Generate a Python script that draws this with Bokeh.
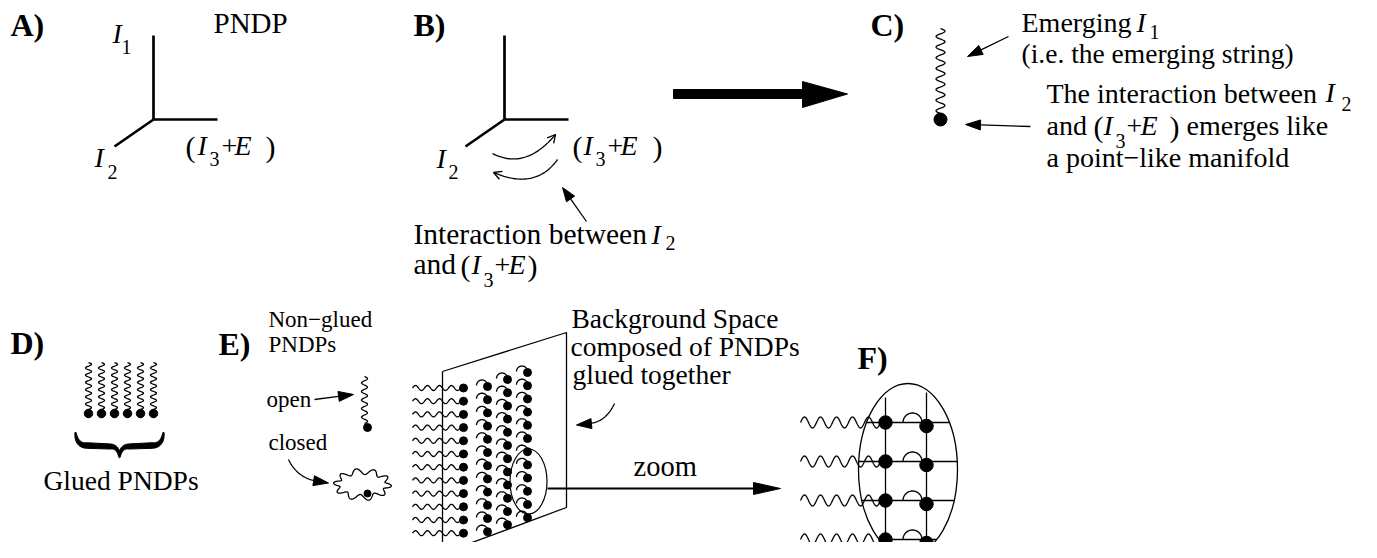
import numpy as np
from bokeh.plotting import figure
from bokeh.models import Range1d
from bokeh.core.properties import value
from bokeh.embed import file_html
from bokeh.resources import INLINE

FONT = "Liberation Serif"
BASE_SHIFT = 0.34   # empirical baseline correction (fraction of font size)

# ---------------- text content ----------------
panel_labels = ["A)", "B)", "C)", "D)", "E)", "F)"]
panel_label_x = [10, 413, 870, 10, 218, 857]
panel_label_y = [35, 35, 35, 353, 354, 368]

roman_texts = ["PNDP", "Interaction between", "and", "Emerging",
               "(i.e. the emerging string)", "The interaction between", "and",
               "emerges like", "a point\u2212like manifold", "Glued PNDPs",
               "Background Space", "composed of PNDPs", "glued together", "zoom"]
roman_x = [213, 413, 413, 1021, 1021, 1046, 1046, 1186, 1046, 43, 571, 570, 572, 633]
roman_y = [32, 244, 274, 32, 62, 103, 135, 135, 167, 489, 327, 355, 383, 476]
roman_size = [29, 29.5, 29.5, 28, 27.5, 28, 28, 28, 28, 27.5, 27.5, 27.5, 27.5, 28.5]

small_texts = ["Non\u2212glued", "PNDPs", "open", "closed"]
small_x = [268, 268, 266, 268]
small_y = [327, 352, 407, 450]

# italic I with a subscript index
sym_sub = ["1", "2", "2", "2", "1", "2"]
sym_x = [112, 94, 436, 651, 1136, 1325]
sym_y = [43, 167, 168, 244, 32, 102]
sym_sub_dx = [9, 13, 12, 14, 13, 16]
sym_sub_dy = [10, 11, 10, 5, 6, 8]

# "(I3+E )" groups: ( , I , 3 , + , E , )
grp_x = [185, 572, 460, 1093]
grp_y = [155, 155, 274, 135]
grp_offsets = [[0, 12, 24, 36, 49, 80],
               [0, 11, 23, 35, 48, 80],
               [0, 11, 23, 34, 48, 67],
               [0, 10, 22, 33, 47, 76]]
grp_sub_dy = [10, 10, 12, 12]

# ---------------- geometry ----------------
axes_vx = [153, 504]
axes_vy = [119, 119]
leg_top_y = 35
leg_right = 64
leg_diag = (-39, 27)

c_string_x, c_string_y0, c_string_y1 = 940, 28, 113
c_dot = (940, 119)

d_x = [88, 101, 114, 127, 140, 153]
d_y0, d_y1, d_dot_y = 362, 409, 413

e_plane_x = [442, 566, 566, 442]
e_plane_y = [371, 332, 507, 553]
e_rows = 12
e_row_step = 13.2
e_wave_x0, e_wave_x1, e_wave_y0 = 412, 460, 387.5
e_wave_dot_x = 463
e_hook_x = [487, 507, 527]
e_hook_y0 = [386, 379, 372]
e_zoom_ell = (528, 481, 37, 65)

f_rows = [422, 461, 500, 539]
f_col_x = [885, 926]
f_col_dy = [0, 3.5]
f_vert_top = [397, 392]
f_ell = (907.5, 469, 99, 172)
f_wave_x0, f_wave_x1 = 800, 880
f_arc_x = 912

# ---------------- figure ----------------
W, H = 1361, 542
p = figure(width=W, height=H, x_range=Range1d(0, W), y_range=Range1d(H, 0),
           output_backend="svg", toolbar_location=None,
           x_axis_type=None, y_axis_type=None, min_border=0,
           outline_line_color=None, background_fill_color="white",
           border_fill_color="white")

thin_xs, thin_ys = [], []
thick_xs, thick_ys = [], []
heads_x, heads_y = [], []


def quad_pts(p0, c, p1, n=40):
    t = np.linspace(0, 1, n)[:, None]
    pts = (1 - t) ** 2 * np.array(p0) + 2 * (1 - t) * t * np.array(c) + t ** 2 * np.array(p1)
    return pts[:, 0].tolist(), pts[:, 1].tolist()


def head(tip, frm, L=14, hw=5):
    dx, dy = tip[0] - frm[0], tip[1] - frm[1]
    d = np.hypot(dx, dy)
    ux, uy = dx / d, dy / d
    bx, by = tip[0] - ux * L, tip[1] - uy * L
    px, py = -uy, ux
    heads_x.append([tip[0], bx + px * hw, bx - px * hw])
    heads_y.append([tip[1], by + py * hw, by - py * hw])
    return bx, by


def open_head(tip, frm, L=9, ang=28):
    a = np.arctan2(frm[1] - tip[1], frm[0] - tip[0])
    for s in (1, -1):
        b = a + s * np.radians(ang)
        thin_xs.append([tip[0] + L * np.cos(b), tip[0]])
        thin_ys.append([tip[1] + L * np.sin(b), tip[1]])


def wave_h(x0, x1, y, amp, periods, n=160):
    xs = np.linspace(x0, x1, n)
    ys = y - amp * np.sin(2 * np.pi * periods * (xs - x0) / (x1 - x0))
    return xs.tolist(), ys.tolist()


def wave_v(x, y0, y1, amp, periods, n=160):
    ys = np.linspace(y0, y1, n)
    xs = x + amp * np.sin(2 * np.pi * periods * (ys - y0) / (y1 - y0))
    return xs.tolist(), ys.tolist()


# A) and B) three legs
for vx, vy in zip(axes_vx, axes_vy):
    thick_xs += [[vx, vx], [vx, vx + leg_right], [vx, vx + leg_diag[0]]]
    thick_ys += [[vy, leg_top_y], [vy, vy], [vy, vy + leg_diag[1]]]

# B) interaction arcs
xs, ys = quad_pts((492, 153), (525, 170), (555, 134))
thin_xs.append(xs); thin_ys.append(ys)
open_head((555, 134), (545, 146))
xs, ys = quad_pts((557, 159), (535, 190), (493, 172))
thin_xs.append(xs); thin_ys.append(ys)
open_head((493, 172), (506, 177))
bx, by = head((562, 187), (586, 221), 14, 5)
thin_xs.append([586, bx]); thin_ys.append([221, by])

# big arrow B -> C
p.quad(left=[673], right=[803], top=[89], bottom=[98], color="black")
heads_x.append([802, 847, 802]); heads_y.append([81, 93.5, 107])

# C) string + arrows
xs, ys = wave_v(c_string_x, c_string_y0, c_string_y1, 4.5, 8)
thin_xs.append(xs); thin_ys.append(ys)
bx, by = head((967, 56), (1008, 36), 15, 5)
thin_xs.append([1008, bx]); thin_ys.append([36, by])
bx, by = head((965, 124), (1030, 126), 15, 5)
thin_xs.append([1030, bx]); thin_ys.append([126, by])

# D) glued strings and brace (filled, tapered)
for x in d_x:
    xs, ys = wave_v(x, d_y0, d_y1, 3, 6.5)
    thin_xs.append(xs); thin_ys.append(ys)
cx = 119
lx1, ly1 = quad_pts((cx - 44, 432), (cx - 43, 445), (cx - 33, 445), 20)
lx2, ly2 = quad_pts((cx - 9, 446), (cx - 1, 446), (cx, 457), 20)
half_x = np.array(lx1 + lx2)
half_y = np.array(ly1 + ly2)
cl_x = np.concatenate([half_x, (2 * cx - half_x[::-1])[1:]])
cl_y = np.concatenate([half_y, half_y[::-1][1:]])
seg = np.hypot(np.diff(cl_x), np.diff(cl_y))
s = np.concatenate([[0], np.cumsum(seg)])
s = s / s[-1]
thick = 0.6 + 2.6 * np.abs(np.sin(2 * np.pi * s))
gx_, gy_ = np.gradient(cl_x), np.gradient(cl_y)
gl = np.hypot(gx_, gy_)
nx_, ny_ = -gy_ / gl, gx_ / gl
up_x, up_y = cl_x + nx_ * thick, cl_y + ny_ * thick
lo_x, lo_y = cl_x - nx_ * thick, cl_y - ny_ * thick
heads_x.append(np.concatenate([up_x, lo_x[::-1]]).tolist())
heads_y.append(np.concatenate([up_y, lo_y[::-1]]).tolist())

# E) non-glued open / closed
xs, ys = wave_v(364, 376, 423, 3, 5.5)
thin_xs.append(xs); thin_ys.append(ys)
bx, by = head((353, 394), (314, 399), 15, 5)
thin_xs.append([314, bx]); thin_ys.append([399, by])
t = np.linspace(0, 2 * np.pi, 300)
rr = 3.0 * np.sin(10 * t + 0.6)
thin_xs.append((362 + (26 + rr) * np.cos(t)).tolist())
thin_ys.append((484 + (13 + rr) * np.sin(t)).tolist())
xs, ys = quad_pts((288, 459), (297, 478), (318, 481))
thin_xs.append(xs); thin_ys.append(ys)
head((328, 482.5), (312, 480), 15, 5)

# E) plane
thin_xs.append(e_plane_x + [e_plane_x[0]]); thin_ys.append(e_plane_y + [e_plane_y[0]])
e_dots_x, e_dots_y = [], []
for r in range(e_rows):
    y = e_wave_y0 + r * e_row_step
    xs, ys = wave_h(e_wave_x0, e_wave_x1, y, 2.5, 4)
    thin_xs.append(xs); thin_ys.append(ys)
    e_dots_x.append(e_wave_dot_x); e_dots_y.append(y)
    for hx, hy0 in zip(e_hook_x, e_hook_y0):
        hy = hy0 + r * e_row_step
        th = np.linspace(0, np.pi, 25)
        thin_xs.append((hx - 5.5 + 5.5 * np.cos(th)).tolist())
        thin_ys.append((hy - 1 - 5.5 * np.sin(th)).tolist())
        e_dots_x.append(hx); e_dots_y.append(hy)
p.ellipse(x=[e_zoom_ell[0]], y=[e_zoom_ell[1]], width=[e_zoom_ell[2]], height=[e_zoom_ell[3]],
          fill_color=None, line_color="black", line_width=1.2)
xs, ys = quad_pts((614, 403), (605, 422), (588, 423))
thin_xs.append(xs); thin_ys.append(ys)
head((576, 424.5), (592, 423), 15, 5)

# zoom arrow
bx, by = head((780, 488), (547, 488), 27, 6)
p.line([547, bx], [488, by], line_color="black", line_width=2)

# F) zoomed grid
fcx, fcy, fw, fh = f_ell
a, b = fw / 2, fh / 2
f_dots_x, f_dots_y = [], []
for ry in f_rows:
    half = a * np.sqrt(max(0.0, 1 - ((ry - fcy) / b) ** 2))
    thin_xs.append([fcx - half, fcx + half]); thin_ys.append([ry, ry])
    xs, ys = wave_h(f_wave_x0, f_wave_x1, ry, 5.5, 5)
    thin_xs.append(xs); thin_ys.append(ys)
    th = np.linspace(0, np.pi, 30)
    thin_xs.append((f_arc_x + 9.5 * np.cos(th)).tolist())
    thin_ys.append((ry - 9.5 * np.sin(th)).tolist())
    for cx_, cdy in zip(f_col_x, f_col_dy):
        f_dots_x.append(cx_); f_dots_y.append(ry + cdy)
for cx_, top in zip(f_col_x, f_vert_top):
    bot = fcy + b * np.sqrt(1 - ((cx_ - fcx) / a) ** 2)
    thin_xs.append([cx_, cx_]); thin_ys.append([top, bot])
p.ellipse(x=[fcx], y=[fcy], width=[fw], height=[fh], fill_color=None,
          line_color="black", line_width=1.3)

p.multi_line(thin_xs, thin_ys, line_color="black", line_width=1.3)
p.multi_line(thick_xs, thick_ys, line_color="black", line_width=2.7)
p.patches(heads_x, heads_y, fill_color="black", line_color="black", line_width=1)

p.scatter(x=[c_dot[0]], y=[c_dot[1]], size=13, color="black")
p.scatter(x=d_x, y=[d_dot_y] * len(d_x), size=8.5, color="black")
p.scatter(x=[367, 367], y=[427, 493], size=[8, 7], color="black")
p.scatter(x=e_dots_x, y=e_dots_y, size=8, color="black")
p.scatter(x=f_dots_x, y=f_dots_y, size=13.5, color="black")


# ---------------- texts ----------------
def txt(xs, ys, texts, size, style="normal"):
    ys = [y - BASE_SHIFT * size for y in ys]
    p.text(x=list(xs), y=ys, text=list(texts), text_font=value(FONT),
           text_font_size=value(f"{size}px"), text_font_style=style,
           text_baseline="alphabetic", text_align="left", text_color="black")


txt(panel_label_x, panel_label_y, panel_labels, 32, "bold")
for sz in sorted(set(roman_size)):
    idx = [i for i, v in enumerate(roman_size) if v == sz]
    txt([roman_x[i] for i in idx], [roman_y[i] for i in idx], [roman_texts[i] for i in idx], sz)
txt(small_x, small_y, small_texts, 23)

it_x, it_y, it_t = [], [], []
sub_x, sub_y, sub_t = [], [], []
par_x, par_y, par_t = [], [], []
rom_x, rom_y, rom_t = [], [], []
for sx, sy, ss, dx, dy in zip(sym_x, sym_y, sym_sub, sym_sub_dx, sym_sub_dy):
    it_x.append(sx); it_y.append(sy); it_t.append("I")
    sub_x.append(sx + dx); sub_y.append(sy + dy); sub_t.append(ss)
for gx, gy, off, sdy in zip(grp_x, grp_y, grp_offsets, grp_sub_dy):
    par_x += [gx + off[0], gx + off[5]]; par_y += [gy + 1, gy + 1]; par_t += ["(", ")"]
    it_x += [gx + off[1], gx + off[4]]; it_y += [gy, gy]; it_t += ["I", "E"]
    sub_x.append(gx + off[2]); sub_y.append(gy + sdy); sub_t.append("3")
    rom_x.append(gx + off[3]); rom_y.append(gy); rom_t.append("+")
txt(it_x, it_y, it_t, 28, "italic")
txt(sub_x, sub_y, sub_t, 20)
txt(par_x, par_y, par_t, 30)
txt(rom_x, rom_y, rom_t, 28)

open("out.html", "w").write(file_html(p, INLINE))
